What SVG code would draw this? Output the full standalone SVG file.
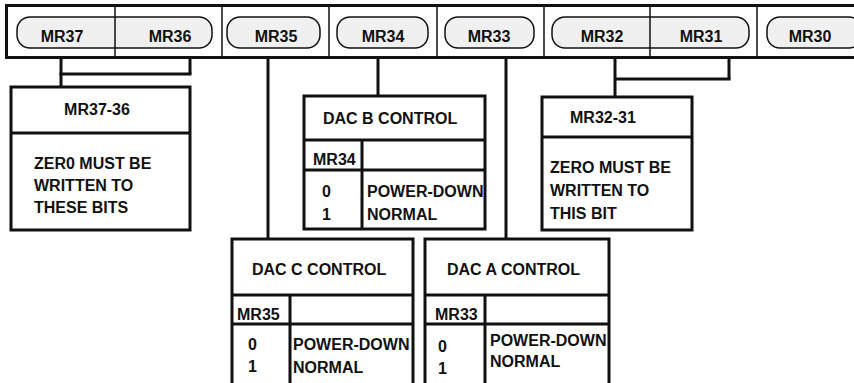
<svg xmlns="http://www.w3.org/2000/svg" width="854" height="383" viewBox="0 0 854 383">
<style>
text{font-family:"Liberation Sans",Arial,sans-serif;font-weight:bold;font-size:16px;fill:#111}
.pill{fill:#f0f0f0;stroke:#111;stroke-width:1.5}
.bar{fill:#fff;stroke:#111;stroke-width:3}
.div{stroke:#111;stroke-width:1.5}
.box{fill:#fff;stroke:#111;stroke-width:3}
.ln{stroke:#111;stroke-width:3;fill:none}
.c{text-anchor:middle}
</style>
<rect width="854" height="383" fill="#fff"/>
<g id="register">
<rect class="bar" x="6.5" y="5.5" width="900" height="52"/>
<rect class="pill" x="17" y="17" width="195" height="31" rx="13"/>
<rect class="pill" x="227" y="17" width="93" height="31" rx="13"/>
<rect class="pill" x="337" y="17" width="91" height="31" rx="13"/>
<rect class="pill" x="445" y="17" width="89" height="31" rx="13"/>
<rect class="pill" x="552" y="17" width="197" height="31" rx="13"/>
<rect class="pill" x="767" y="17" width="95" height="31" rx="13"/>
<path class="div" d="M115 7V56M222 7V56M329 7V56M437 7V56M544 7V56M650 7V56M757 7V56"/>
<text class="c" x="62" y="42">MR37</text>
<text class="c" x="170" y="42">MR36</text>
<text class="c" x="276" y="42">MR35</text>
<text class="c" x="383" y="42">MR34</text>
<text class="c" x="489" y="42">MR33</text>
<text class="c" x="602" y="42">MR32</text>
<text class="c" x="701" y="42">MR31</text>
<text class="c" x="810" y="42">MR30</text>
</g>
<g id="connectors">
<path class="ln" d="M61 58V87" stroke-width="2.5"/>
<path class="ln" d="M190 58V74"/>
<path class="ln" d="M59.5 74H191.5" stroke-width="3.5"/>
<path class="ln" d="M268 58V239"/>
<path class="ln" d="M378 58V96" stroke-width="1.5"/>
<path class="ln" d="M506 58V239"/>
<path class="ln" d="M615 58V97" stroke-width="2"/>
<path class="ln" d="M729 58V79"/>
<path class="ln" d="M614 79H730.5"/>
</g>
<g id="mr37-36">
<rect class="box" x="11" y="87" width="179" height="143"/>
<path class="ln" d="M11 133H190"/>
<text class="c" x="97" y="115">MR37-36</text>
<text x="34" y="169">ZER0 MUST BE</text>
<text x="34" y="191">WRITTEN TO</text>
<text x="34" y="213">THESE BITS</text>
</g>
<g id="dac-b">
<rect class="box" x="304" y="96" width="181" height="133"/>
<path class="ln" d="M304 140H485M304 170H485M362 140V229"/>
<text x="323" y="124">DAC B CONTROL</text>
<text x="313" y="165">MR34</text>
<text x="322" y="197">0</text>
<text x="322" y="220">1</text>
<text x="367" y="197">POWER-DOWN</text>
<text x="367" y="220">NORMAL</text>
</g>
<g id="mr32-31">
<rect class="box" x="542" y="97" width="150" height="133"/>
<path class="ln" d="M542 137H692"/>
<text x="570" y="123">MR32-31</text>
<text x="550" y="173">ZERO MUST BE</text>
<text x="550" y="196">WRITTEN TO</text>
<text x="550" y="219">THIS BIT</text>
</g>
<g id="dac-c">
<rect class="box" x="232" y="239" width="181" height="160"/>
<path class="ln" d="M232 295H413M232 324H413M290 295V390"/>
<text x="252" y="275">DAC C CONTROL</text>
<text x="237" y="320">MR35</text>
<text x="248" y="350">0</text>
<text x="248" y="372">1</text>
<text x="293" y="350">POWER-DOWN</text>
<text x="293" y="373">NORMAL</text>
</g>
<g id="dac-a">
<rect class="box" x="425" y="239" width="184" height="160"/>
<path class="ln" d="M425 295H609M425 324H609M485 295V390"/>
<text x="447" y="275">DAC A CONTROL</text>
<text x="435" y="320">MR33</text>
<text x="438" y="352">0</text>
<text x="438" y="374">1</text>
<text x="490" y="346">POWER-DOWN</text>
<text x="490" y="367">NORMAL</text>
</g>
</svg>
